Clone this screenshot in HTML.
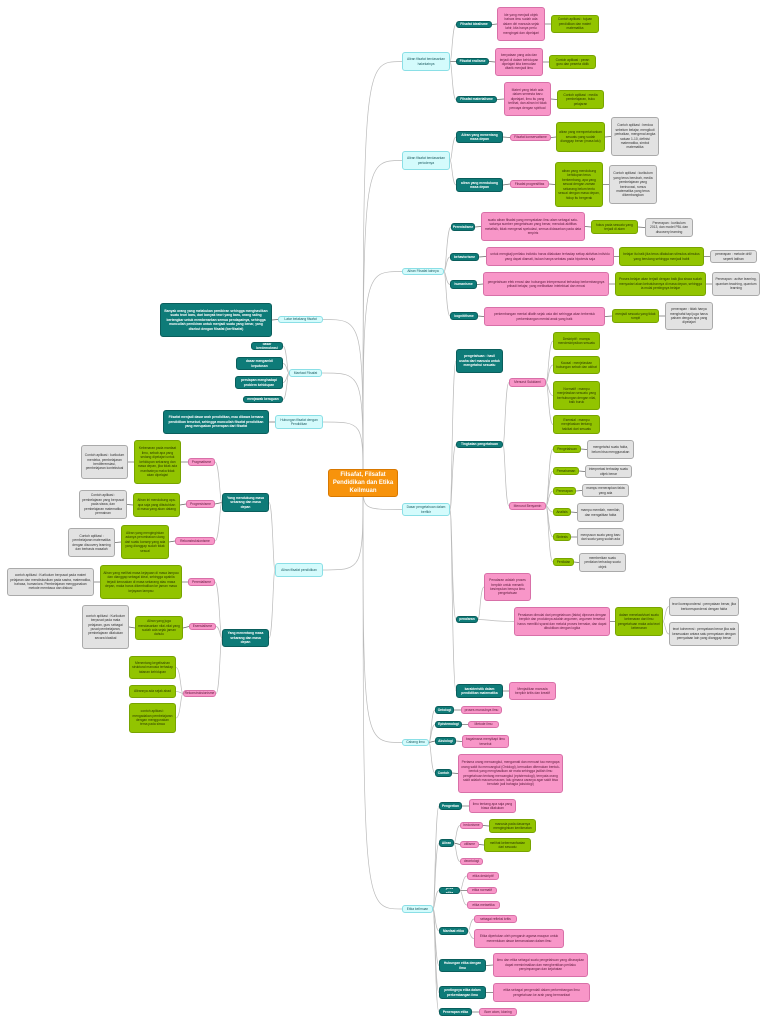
<!DOCTYPE html>
<html><head><meta charset="utf-8">
<style>
html,body{margin:0;padding:0;background:#fff;}
#w{position:relative;width:768px;height:1024px;overflow:hidden;font-family:"Liberation Sans",sans-serif;}
svg{position:absolute;left:0;top:0;}
.n{position:absolute;box-sizing:border-box;border-radius:3px;font-size:3.3px;line-height:1.35;display:flex;align-items:center;justify-content:center;text-align:center;padding:1px 2px;overflow:hidden;}
.t{background:#0e7b78;color:#fff;font-weight:bold;border:0.6px solid #0a5e5c;}
.p{background:#f896c8;color:#5a1a3a;border:0.6px solid #d870a8;}
.g{background:#92c400;color:#2c3a00;border:0.6px solid #78a400;}
.y{background:#e2e2e2;color:#333;border:0.6px solid #aaa;}
.c{background:#d4fbfc;color:#1a5a60;border:0.6px solid #8adfe6;}
.o{background:#f7930c;color:#fff;font-weight:bold;font-size:6px;border:0.6px solid #d87800;border-radius:3px;}
</style></head><body><div id="w">
<svg id="s" width="768" height="1024"></svg>

<div class="n o" id="C" style="left:328px;top:469px;width:70px;height:28px">Filsafat, Filsafat Pendidikan dan Etika Keilmuan</div>

<!-- top right -->
<div class="n c" id="a1" style="left:402px;top:52px;width:48px;height:19px">Aliran filsafat berdasarkan hakekatnya</div>
<div class="n t" id="a1a" style="left:456px;top:21px;width:36px;height:7px">Filsafat idealisme</div>
<div class="n p" id="a1a1" style="left:497px;top:7px;width:48px;height:34px">Ide yang menjadi objek bahwa ilmu sudah ada dalam diri manusia sejak lahir, kita hanya perlu mengingat dan dipelajari</div>
<div class="n g" id="a1a2" style="left:551px;top:15px;width:48px;height:18px">Contoh aplikasi : tujuan pendidikan dan materi matematika</div>
<div class="n t" id="a1b" style="left:456px;top:58px;width:33px;height:7px">Filsafat realisme</div>
<div class="n p" id="a1b1" style="left:495px;top:48px;width:48px;height:28px">kenyataan yang ada dan terjadi di dalam kehidupan dipelajari kita kemudian ditarik menjadi ilmu</div>
<div class="n g" id="a1b2" style="left:549px;top:55px;width:47px;height:14px">Contoh aplikasi : peran guru dan peserta didik</div>
<div class="n t" id="a1c" style="left:456px;top:96px;width:41px;height:7px">Filsafat materialisme</div>
<div class="n p" id="a1c1" style="left:504px;top:82px;width:47px;height:34px">Materi yang telah ada dalam semesta baru dipelajari, ilmu itu yang terlihat, dan aliran ini tidak percaya dengan spiritual</div>
<div class="n g" id="a1c2" style="left:557px;top:90px;width:47px;height:19px">Contoh aplikasi : media pembelajaran, buku pelajaran</div>

<div class="n c" id="a2" style="left:402px;top:151px;width:48px;height:19px">Aliran filsafat berdasarkan periodenya</div>
<div class="n t" id="a2a" style="left:456px;top:131px;width:47px;height:12px">Aliran yang menentang masa depan</div>
<div class="n p" id="a2a1" style="left:510px;top:134px;width:41px;height:7px">Filsafat konservatisme</div>
<div class="n g" id="a2a2" style="left:556px;top:122px;width:49px;height:30px">aliran yang mempertahankan sesuatu yang sudah dianggap benar (masa lalu)</div>
<div class="n y" id="a2a3" style="left:611px;top:117px;width:48px;height:39px">Contoh aplikasi : berdoa sebelum belajar, mengikuti perbaikan, mengenal angka satuan 1-10, definisi matematika, simbol matematika</div>
<div class="n t" id="a2b" style="left:456px;top:178px;width:47px;height:14px">aliran yang mendukung masa depan</div>
<div class="n p" id="a2b1" style="left:510px;top:180px;width:39px;height:8px">Filsafat progresifitas</div>
<div class="n g" id="a2b2" style="left:555px;top:162px;width:48px;height:45px">aliran yang mendukung kehidupan terus berkembang, apa yang sesuai dengan zaman sekarang belum tentu sesuai dengan masa depan, hidup itu bergerak</div>
<div class="n y" id="a2b3" style="left:609px;top:165px;width:48px;height:39px">Contoh aplikasi : kurikulum yang terus berubah, media pembelajaran yang berinovasi, rumus matematika yang terus dikembangkan</div>

<div class="n c" id="a3" style="left:402px;top:268px;width:42px;height:7px">Aliran Filsafat lainnya</div>
<div class="n t" id="a3a" style="left:451px;top:223px;width:24px;height:8px">Perenialisme</div>
<div class="n p" id="a3a1" style="left:481px;top:212px;width:104px;height:29px">suatu aliran filsafat yang menyatakan ilmu alam sebagai satu-satunya sumber pengetahuan yang benar, menolak aktifitas metafisik, tidak mengenal spekulasi, semua didasarkan pada data empiris</div>
<div class="n g" id="a3a2" style="left:591px;top:220px;width:47px;height:14px">fokus pada sesuatu yang terjadi di alam</div>
<div class="n y" id="a3a3" style="left:645px;top:218px;width:48px;height:19px">Penerapan : kurikulum 2013, dan model PBL dan discovery learning</div>
<div class="n t" id="a3b" style="left:450px;top:253px;width:29px;height:8px">behaviorisme</div>
<div class="n p" id="a3b1" style="left:486px;top:247px;width:128px;height:19px">untuk mengkaji perilaku individu harus dilakukan terhadap setiap aktivitas individu yang dapat diamati, bukan hanya sebatas pada hipotesis saja</div>
<div class="n g" id="a3b2" style="left:619px;top:247px;width:85px;height:19px">belajar itu baik jika terus dilakukan stimulus-stimulus yang berulang sehingga menjadi habit</div>
<div class="n y" id="a3b3" style="left:710px;top:250px;width:47px;height:13px">penerapan : metode drill/ seperti latihan</div>
<div class="n t" id="a3c" style="left:450px;top:280px;width:27px;height:9px">humanisme</div>
<div class="n p" id="a3c1" style="left:483px;top:272px;width:126px;height:24px">pengetahuan efek emosi dan hubungan interpersonal terhadap berkembangnya pribadi belajar, yang melibatkan intelektual dan emosi</div>
<div class="n g" id="a3c2" style="left:615px;top:272px;width:91px;height:24px">Proses belajar akan terjadi dengan baik jika siswa sudah menyadari akan kebutuhannya di masa depan, sehingga ia mulai pentingnya belajar</div>
<div class="n y" id="a3c3" style="left:712px;top:272px;width:48px;height:24px">Penerapan : active learning, quantum teaching, quantum learning</div>
<div class="n t" id="a3d" style="left:450px;top:312px;width:28px;height:8px">kognitifisme</div>
<div class="n p" id="a3d1" style="left:484px;top:307px;width:121px;height:19px">perkembangan mental dilatih sejak usia dini sehingga akan terbentuk perkembangan mental anak yang baik</div>
<div class="n g" id="a3d2" style="left:612px;top:309px;width:47px;height:14px">menjadi sesuatu yang tidak rumpit</div>
<div class="n y" id="a3d3" style="left:665px;top:302px;width:48px;height:28px">penerapan : tidak hanya menghafal tapi juga harus paham dengan apa yang dipelajari</div>

<!-- left -->
<div class="n c" id="b1" style="left:278px;top:316px;width:45px;height:7px">Latar belakang filsafat</div>
<div class="n t" id="b1a" style="left:160px;top:303px;width:112px;height:34px">Banyak orang yang melakukan pemikiran sehingga menghasilkan suatu teori baru, dari banyak teori yang baru, orang saling bertengkar untuk membenarkan semua pendapatnya, sehingga muncullah pemikiran untuk menjadi suatu yang benar, yang disebut dengan filsafat (berfilsafat)</div>
<div class="n c" id="b2" style="left:289px;top:369px;width:33px;height:8px">Manfaat Filsafat</div>
<div class="n t" id="b2a" style="left:251px;top:342px;width:32px;height:8px">dasar berdemokrasi</div>
<div class="n t" id="b2b" style="left:236px;top:357px;width:47px;height:13px">dasar mengambil keputusan</div>
<div class="n t" id="b2c" style="left:235px;top:376px;width:48px;height:13px">persiapan menghadapi problem kehidupan</div>
<div class="n t" id="b2d" style="left:243px;top:396px;width:40px;height:7px">menjawab keraguan</div>
<div class="n c" id="b3" style="left:275px;top:415px;width:48px;height:14px">Hubungan filsafat dengan Pendidikan</div>
<div class="n t" id="b3a" style="left:163px;top:410px;width:106px;height:24px">Filsafat menjadi dasar arah pendidikan, mau dibawa kemana pendidikan tersebut, sehingga muncullah filsafat pendidikan yang merupakan penerapan dari filsafat</div>
<div class="n c" id="b4" style="left:275px;top:563px;width:48px;height:14px">Aliran filsafat pendidikan</div>
<div class="n t" id="b4a" style="left:222px;top:493px;width:47px;height:19px">Yang mendukung masa sekarang dan masa depan</div>
<div class="n p" id="b4a1" style="left:188px;top:458px;width:27px;height:8px">Pragmatisme</div>
<div class="n g" id="b4a1a" style="left:134px;top:440px;width:47px;height:44px">Kebenaran pada manfaat ilmu, sebab apa yang sedang dipelajari untuk kehidupan sekarang dan masa depan, jika tidak ada manfaatnya maka tidak akan dipelajari</div>
<div class="n y" id="b4a1b" style="left:81px;top:445px;width:47px;height:34px">Contoh aplikasi : kurikulum merdeka, pembelajaran berdiferensiasi, pembelajaran kontekstual</div>
<div class="n p" id="b4a2" style="left:186px;top:500px;width:29px;height:8px">Progresivisme</div>
<div class="n g" id="b4a2a" style="left:133px;top:493px;width:47px;height:24px">Aliran ini mendukung apa-apa saja yang dibutuhkan di masa yang akan datang</div>
<div class="n y" id="b4a2b" style="left:79px;top:490px;width:48px;height:29px">Contoh aplikasi : pembelajaran yang berpusat pada siswa, dan pembelajaran matematika permainan</div>
<div class="n p" id="b4a3" style="left:175px;top:537px;width:40px;height:8px">Rekonstruksionisme</div>
<div class="n g" id="b4a3a" style="left:121px;top:525px;width:48px;height:34px">Aliran yang menginginkan adanya perombakan ulang dari suatu konsep yang ada yang dianggap sudah tidak sesuai</div>
<div class="n y" id="b4a3b" style="left:68px;top:528px;width:47px;height:29px">Contoh aplikasi : pembelajaran matematika dengan discovery learning dan berbasis masalah</div>
<div class="n t" id="b4b" style="left:222px;top:629px;width:47px;height:18px">Yang menentang masa sekarang dan masa depan</div>
<div class="n p" id="b4b1" style="left:188px;top:578px;width:27px;height:8px">Perenialisme</div>
<div class="n g" id="b4b1a" style="left:100px;top:565px;width:82px;height:34px">Aliran yang melihat masa kejayaan di masa lampau dan dianggap sebagai ideal, sehingga apabila terjadi kerusakan di masa sekarang atau masa depan, maka harus dikembalikan ke jaman masa kejayaan lampau</div>
<div class="n y" id="b4b1b" style="left:7px;top:568px;width:87px;height:28px">contoh aplikasi : Kurikulum berpusat pada materi pelajaran dan mendiskusikan pada sastra, matematika, bahasa, humaniora. Pembelajaran menggunakan metode membaca dan diskusi</div>
<div class="n p" id="b4b2" style="left:189px;top:623px;width:27px;height:7px">Esensialisme</div>
<div class="n g" id="b4b2a" style="left:135px;top:616px;width:48px;height:24px">Aliran yang juga mendasarkan nilai-nilai yang sudah ada sejak jaman dahulu</div>
<div class="n y" id="b4b2b" style="left:82px;top:605px;width:47px;height:44px">contoh aplikasi : Kurikulum berpusat pada mata pelajaran, guru sebagai pusat pembelajaran, pembelajaran dilakukan secara klasikal</div>
<div class="n p" id="b4b3" style="left:183px;top:690px;width:33px;height:7px">Rekonstruksionisme</div>
<div class="n g" id="b4b3a" style="left:129px;top:656px;width:47px;height:23px">Menentang kegelisahan struktural manusia terhadap tatanan kehidupan</div>
<div class="n g" id="b4b3b" style="left:129px;top:685px;width:47px;height:13px">Alirannya ada sejak abad</div>
<div class="n g" id="b4b3c" style="left:129px;top:703px;width:47px;height:30px">contoh aplikasi : mengadakan pembelajaran dengan menggunakan tema pada siswa</div>

<!-- right lower -->
<div class="n c" id="d1" style="left:402px;top:503px;width:48px;height:13px">Dasar pengetahuan dalam berfikir</div>
<div class="n t" id="d1a" style="left:456px;top:349px;width:47px;height:24px">pengetahuan : hasil usaha dari manusia untuk mengetahui sesuatu</div>
<div class="n t" id="d1b" style="left:456px;top:441px;width:47px;height:7px">Tingkatan pengetahuan</div>
<div class="n p" id="d1b1" style="left:509px;top:378px;width:37px;height:9px">Menurut Sukidarni</div>
<div class="n g" id="d1b1a" style="left:553px;top:332px;width:47px;height:18px">Deskriptif : mampu mendeskripsikan sesuatu</div>
<div class="n g" id="d1b1b" style="left:553px;top:356px;width:47px;height:18px">Kausal : menjelaskan hubungan sebab dan akibat</div>
<div class="n g" id="d1b1c" style="left:553px;top:381px;width:47px;height:29px">Normatif : mampu menjelaskan sesuatu yang berhubungan dengan nilai, baik buruk</div>
<div class="n g" id="d1b1d" style="left:553px;top:415px;width:47px;height:19px">Esensial : mampu menjelaskan tentang hakikat dari sesuatu</div>
<div class="n p" id="d1b2" style="left:509px;top:502px;width:37px;height:8px">Menurut Benyamin</div>
<div class="n g" id="d1b2a" style="left:553px;top:445px;width:28px;height:8px">Pengetahuan</div>
<div class="n y" id="d1b2aa" style="left:587px;top:440px;width:47px;height:19px">mengetahui suatu fakta, belum bisa menggunakan</div>
<div class="n g" id="d1b2b" style="left:553px;top:467px;width:26px;height:8px">Pemahaman</div>
<div class="n y" id="d1b2bb" style="left:585px;top:465px;width:47px;height:13px">interpretasi terhadap suatu objek benar</div>
<div class="n g" id="d1b2c" style="left:553px;top:487px;width:23px;height:8px">Penerapan</div>
<div class="n y" id="d1b2cc" style="left:582px;top:484px;width:47px;height:13px">mampu menerapkan fakta yang ada</div>
<div class="n g" id="d1b2d" style="left:553px;top:508px;width:18px;height:8px">Analisis</div>
<div class="n y" id="d1b2dd" style="left:577px;top:503px;width:47px;height:19px">mampu memilah, memilah, dan mengaitkan fakta</div>
<div class="n g" id="d1b2e" style="left:553px;top:533px;width:18px;height:8px">Sintesis</div>
<div class="n y" id="d1b2ee" style="left:577px;top:528px;width:47px;height:18px">menyusun suatu yang baru dari suatu yang sudah ada</div>
<div class="n g" id="d1b2f" style="left:553px;top:558px;width:21px;height:8px">Penilaian</div>
<div class="n y" id="d1b2ff" style="left:579px;top:553px;width:47px;height:19px">memberikan suatu penilaian terhadap suatu objek</div>
<div class="n t" id="d1c" style="left:456px;top:616px;width:22px;height:7px">penalaran</div>
<div class="n p" id="d1c1" style="left:484px;top:573px;width:47px;height:28px">Penalaran adalah proses berpikir untuk menarik kesimpulan berupa ilmu pengetahuan</div>
<div class="n p" id="d1c2" style="left:514px;top:607px;width:96px;height:29px">Penalaran dimulai dari pengetahuan (fakta) diproses dengan berpikir dan produknya adalah argumen, argumen tersebut harus memiliki syarat dan melalui proses bernalar, dan dapat dibuktikan dengan logika</div>
<div class="n g" id="d1c3" style="left:615px;top:607px;width:48px;height:29px">dalam menelaah/cari suatu kebenaran dari ilmu pengetahuan maka ada teori kebenaran</div>
<div class="n y" id="d1c3a" style="left:669px;top:597px;width:70px;height:19px">teori korespondensi : pernyataan benar, jika berkorespondensi dengan fakta</div>
<div class="n y" id="d1c3b" style="left:669px;top:622px;width:70px;height:24px">teori koherensi : pernyataan benar jika ada kesesuaian antara satu pernyataan dengan pernyataan lain yang dianggap benar</div>
<div class="n t" id="d1d" style="left:456px;top:684px;width:47px;height:14px">karakteristik dalam pendidikan matematika</div>
<div class="n p" id="d1d1" style="left:509px;top:682px;width:47px;height:18px">Menjadikan manusia berpikir kritis dan kreatif</div>

<div class="n c" id="e1" style="left:402px;top:739px;width:27px;height:7px">Cabang ilmu</div>
<div class="n t" id="e1a" style="left:435px;top:706px;width:19px;height:8px">Ontologi</div>
<div class="n p" id="e1a1" style="left:461px;top:706px;width:41px;height:8px">proses munculnya ilmu</div>
<div class="n t" id="e1b" style="left:435px;top:721px;width:27px;height:7px">Epistemologi</div>
<div class="n p" id="e1b1" style="left:468px;top:721px;width:31px;height:7px">Metode ilmu</div>
<div class="n t" id="e1c" style="left:435px;top:737px;width:21px;height:8px">Aksiologi</div>
<div class="n p" id="e1c1" style="left:462px;top:735px;width:47px;height:13px">bagaimana menyikapi ilmu tersebut</div>
<div class="n t" id="e1d" style="left:435px;top:769px;width:17px;height:8px">Contoh</div>
<div class="n p" id="e1d1" style="left:458px;top:754px;width:105px;height:39px">Pertama orang mencangkul, mengamati dan mencari tau mengapa orang sakit itu mencangkul (Ontologi), kemudian ditemukan bentuk-bentuk yang menghasilkan air mata sehingga jadilah ilmu pengetahuan tentang mencangkul (epistemologi), ternyata orang sakit adalah macam-macam, lalu gimana caranya agar sakit bisa berubah jadi bahagia (aksiologi)</div>

<div class="n c" id="f1" style="left:402px;top:905px;width:31px;height:8px">Etika keilmuan</div>
<div class="n t" id="f1a" style="left:439px;top:802px;width:23px;height:8px">Pengertian</div>
<div class="n p" id="f1a1" style="left:469px;top:799px;width:47px;height:14px">ilmu tentang apa saja yang biasa dilakukan</div>
<div class="n t" id="f1b" style="left:439px;top:839px;width:15px;height:8px">Aliran</div>
<div class="n p" id="f1b1" style="left:460px;top:822px;width:23px;height:7px">hedonisme</div>
<div class="n g" id="f1b1a" style="left:489px;top:819px;width:47px;height:14px">manusia pada dasarnya menginginkan kenikmatan</div>
<div class="n p" id="f1b2" style="left:460px;top:841px;width:19px;height:7px">utilisme</div>
<div class="n g" id="f1b2a" style="left:484px;top:838px;width:47px;height:14px">melihat kebermanfaatan dari sesuatu</div>
<div class="n p" id="f1b3" style="left:460px;top:858px;width:23px;height:7px">deontologi</div>
<div class="n t" id="f1c" style="left:439px;top:887px;width:21px;height:7px">jenis etika</div>
<div class="n p" id="f1c1" style="left:467px;top:872px;width:32px;height:8px">etika deskriptif</div>
<div class="n p" id="f1c2" style="left:467px;top:887px;width:30px;height:7px">etika normatif</div>
<div class="n p" id="f1c3" style="left:467px;top:901px;width:33px;height:8px">etika metaetika</div>
<div class="n t" id="f1d" style="left:439px;top:927px;width:29px;height:8px">Manfaat etika</div>
<div class="n p" id="f1d1" style="left:474px;top:915px;width:43px;height:8px">sebagai refleksi kritis</div>
<div class="n p" id="f1d2" style="left:474px;top:929px;width:90px;height:19px">Etika diperlukan oleh pengaruh agama maupun untuk menentukan dasar kemanusiaan dalam ilmu</div>
<div class="n t" id="f1e" style="left:439px;top:959px;width:47px;height:13px">Hubungan etika dengan ilmu</div>
<div class="n p" id="f1e1" style="left:493px;top:953px;width:95px;height:24px">ilmu dan etika sebagai suatu pengetahuan yang diharapkan dapat meminimalkan dan menghentikan perilaku penyimpangan dan kejahatan</div>
<div class="n t" id="f1f" style="left:439px;top:986px;width:47px;height:13px">pentingnya etika dalam perkembangan ilmu</div>
<div class="n p" id="f1f1" style="left:493px;top:983px;width:97px;height:19px">etika sebagai pengendali dalam perkembangan ilmu pengetahuan ke arah yang bermanfaat</div>
<div class="n t" id="f1g" style="left:439px;top:1008px;width:33px;height:8px">Penerapan etika</div>
<div class="n p" id="f1g1" style="left:479px;top:1008px;width:38px;height:8px">Bom atom, kloning</div>
</div>
<script>
var E=[
["C","a1"],["a1","a1a"],["a1a","a1a1"],["a1a1","a1a2"],["a1","a1b"],["a1b","a1b1"],["a1b1","a1b2"],["a1","a1c"],["a1c","a1c1"],["a1c1","a1c2"],
["C","a2"],["a2","a2a"],["a2a","a2a1"],["a2a1","a2a2"],["a2a2","a2a3"],["a2","a2b"],["a2b","a2b1"],["a2b1","a2b2"],["a2b2","a2b3"],
["C","a3"],["a3","a3a"],["a3a","a3a1"],["a3a1","a3a2"],["a3a2","a3a3"],["a3","a3b"],["a3b","a3b1"],["a3b1","a3b2"],["a3b2","a3b3"],["a3","a3c"],["a3c","a3c1"],["a3c1","a3c2"],["a3c2","a3c3"],["a3","a3d"],["a3d","a3d1"],["a3d1","a3d2"],["a3d2","a3d3"],
["C","b1"],["b1","b1a"],["C","b2"],["b2","b2a"],["b2","b2b"],["b2","b2c"],["b2","b2d"],["C","b3"],["b3","b3a"],["C","b4"],
["b4","b4a"],["b4a","b4a1"],["b4a1","b4a1a"],["b4a1a","b4a1b"],["b4a","b4a2"],["b4a2","b4a2a"],["b4a2a","b4a2b"],["b4a","b4a3"],["b4a3","b4a3a"],["b4a3a","b4a3b"],
["b4","b4b"],["b4b","b4b1"],["b4b1","b4b1a"],["b4b1a","b4b1b"],["b4b","b4b2"],["b4b2","b4b2a"],["b4b2a","b4b2b"],["b4b","b4b3"],["b4b3","b4b3a"],["b4b3","b4b3b"],["b4b3","b4b3c"],
["C","d1"],["d1","d1a"],["d1","d1b"],["d1b","d1b1"],["d1b1","d1b1a"],["d1b1","d1b1b"],["d1b1","d1b1c"],["d1b1","d1b1d"],["d1b","d1b2"],
["d1b2","d1b2a"],["d1b2a","d1b2aa"],["d1b2","d1b2b"],["d1b2b","d1b2bb"],["d1b2","d1b2c"],["d1b2c","d1b2cc"],["d1b2","d1b2d"],["d1b2d","d1b2dd"],["d1b2","d1b2e"],["d1b2e","d1b2ee"],["d1b2","d1b2f"],["d1b2f","d1b2ff"],
["d1","d1c"],["d1c","d1c1"],["d1c","d1c2"],["d1c2","d1c3"],["d1c3","d1c3a"],["d1c3","d1c3b"],["d1","d1d"],["d1d","d1d1"],
["C","e1"],["e1","e1a"],["e1a","e1a1"],["e1","e1b"],["e1b","e1b1"],["e1","e1c"],["e1c","e1c1"],["e1","e1d"],["e1d","e1d1"],
["C","f1"],["f1","f1a"],["f1a","f1a1"],["f1","f1b"],["f1b","f1b1"],["f1b1","f1b1a"],["f1b","f1b2"],["f1b2","f1b2a"],["f1b","f1b3"],["f1","f1c"],["f1c","f1c1"],["f1c","f1c2"],["f1c","f1c3"],["f1","f1d"],["f1d","f1d1"],["f1d","f1d2"],["f1","f1e"],["f1e","f1e1"],["f1","f1f"],["f1f","f1f1"],["f1","f1g"],["f1g","f1g1"]
];
function b(id){var e=document.getElementById(id);return {l:e.offsetLeft,t:e.offsetTop,w:e.offsetWidth,h:e.offsetHeight};}
var s="";
E.forEach(function(p){var a=b(p[0]),c=b(p[1]);var cx=c.l+c.w/2,ax=a.l+a.w/2,ay=a.t+a.h/2,cy=c.t+c.h/2;var x1,x2,d;
if(p[0]=="C"){x1=363;var y1=ay;x2=cx<ax?c.l+c.w:c.l;d="M"+x1+" "+y1+" C"+x1+" "+cy+" "+x1+" "+cy+" "+x2+" "+cy;}
else{if(cx>=ax){x1=a.l+a.w;x2=c.l;}else{x1=a.l;x2=c.l+c.w;}
var m=(x1+x2)/2;if(Math.abs(cy-ay)<2){d="M"+x1+" "+ay+" L"+x2+" "+cy;}else{var k=x1+(x2-x1)*0.35;d="M"+x1+" "+ay+" C"+k+" "+ay+" "+k+" "+cy+" "+x2+" "+cy;}}
var col=Math.abs(cy-ay)<2?"#666":"#bbb";s+='<path d="'+d+'" fill="none" stroke="'+col+'" stroke-width="0.7"/>';});
document.getElementById("s").innerHTML=s;
</script>
</body></html>
